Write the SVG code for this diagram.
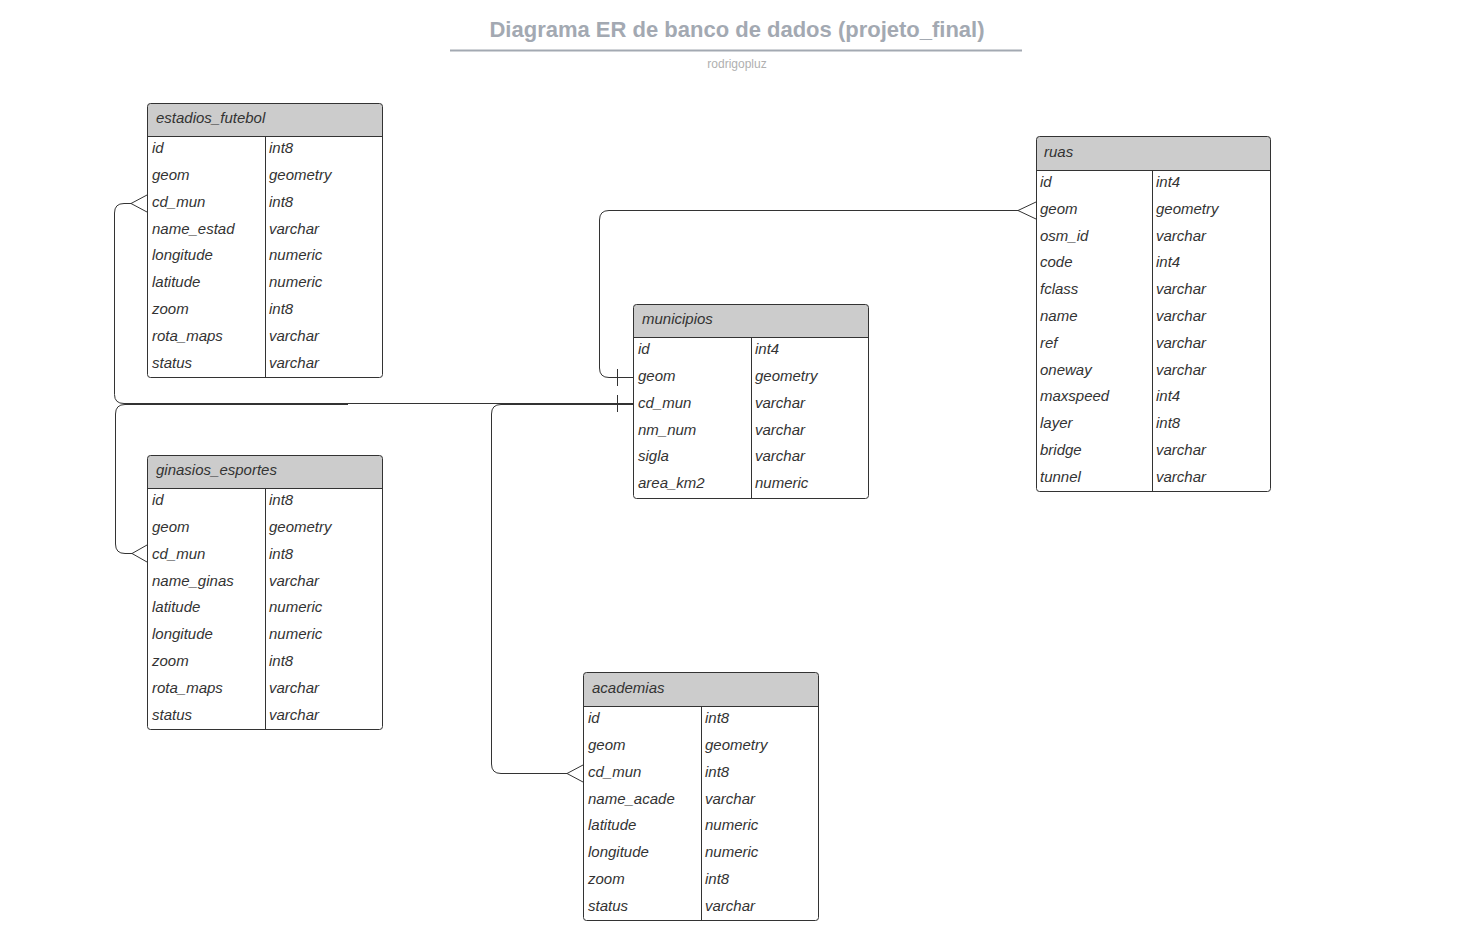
<svg xmlns="http://www.w3.org/2000/svg" width="1468" height="942" viewBox="0 0 1468 942">
<style>
.t{font-family:"Liberation Sans",Arial,sans-serif;font-size:15px;font-style:italic;fill:#333}
.hd{fill:#cccccc;stroke:none}
.box{fill:none;stroke:#333;stroke-width:1}
.ln{stroke:#333;stroke-width:1;fill:none}
.c{stroke:#333;stroke-width:1;fill:none}
</style>
<rect width="1468" height="942" fill="#ffffff"/>
<g id="title">
<text x="737" y="36.5" text-anchor="middle" font-family="Liberation Sans,Arial,sans-serif" font-size="22" font-weight="bold" fill="#a3a9b2">Diagrama ER de banco de dados (projeto_final)</text>
<line x1="450" y1="50.5" x2="1022" y2="50.5" stroke="#a3a9b2" stroke-width="2"/>
<text x="737" y="68" text-anchor="middle" font-family="Liberation Sans,Arial,sans-serif" font-size="12" fill="#b0b0b0">rodrigopluz</text>
</g>

<g id="estadios_futebol">
<path class="hd" d="M147.5 136.5 V106.5 Q147.5 103.5 150.5 103.5 H379.5 Q382.5 103.5 382.5 106.5 V136.5 Z"/>
<rect class="box" x="147.5" y="103.5" width="235" height="274" rx="3"/>
<line class="ln" x1="147.5" y1="136.5" x2="382.5" y2="136.5"/>
<line class="ln" x1="265.5" y1="136.5" x2="265.5" y2="377.5"/>
<text class="t" x="156" y="123">estadios_futebol</text>
<text class="t" x="152" y="153">id</text><text class="t" x="269" y="153">int8</text>
<text class="t" x="152" y="180">geom</text><text class="t" x="269" y="180">geometry</text>
<text class="t" x="152" y="207">cd_mun</text><text class="t" x="269" y="207">int8</text>
<text class="t" x="152" y="234">name_estad</text><text class="t" x="269" y="234">varchar</text>
<text class="t" x="152" y="260">longitude</text><text class="t" x="269" y="260">numeric</text>
<text class="t" x="152" y="287">latitude</text><text class="t" x="269" y="287">numeric</text>
<text class="t" x="152" y="314">zoom</text><text class="t" x="269" y="314">int8</text>
<text class="t" x="152" y="341">rota_maps</text><text class="t" x="269" y="341">varchar</text>
<text class="t" x="152" y="368">status</text><text class="t" x="269" y="368">varchar</text>
</g>

<g id="ginasios_esportes">
<path class="hd" d="M147.5 488.5 V458.5 Q147.5 455.5 150.5 455.5 H379.5 Q382.5 455.5 382.5 458.5 V488.5 Z"/>
<rect class="box" x="147.5" y="455.5" width="235" height="274" rx="3"/>
<line class="ln" x1="147.5" y1="488.5" x2="382.5" y2="488.5"/>
<line class="ln" x1="265.5" y1="488.5" x2="265.5" y2="729.5"/>
<text class="t" x="156" y="475">ginasios_esportes</text>
<text class="t" x="152" y="505">id</text><text class="t" x="269" y="505">int8</text>
<text class="t" x="152" y="532">geom</text><text class="t" x="269" y="532">geometry</text>
<text class="t" x="152" y="559">cd_mun</text><text class="t" x="269" y="559">int8</text>
<text class="t" x="152" y="586">name_ginas</text><text class="t" x="269" y="586">varchar</text>
<text class="t" x="152" y="612">latitude</text><text class="t" x="269" y="612">numeric</text>
<text class="t" x="152" y="639">longitude</text><text class="t" x="269" y="639">numeric</text>
<text class="t" x="152" y="666">zoom</text><text class="t" x="269" y="666">int8</text>
<text class="t" x="152" y="693">rota_maps</text><text class="t" x="269" y="693">varchar</text>
<text class="t" x="152" y="720">status</text><text class="t" x="269" y="720">varchar</text>
</g>

<g id="municipios">
<path class="hd" d="M633.5 337.5 V307.5 Q633.5 304.5 636.5 304.5 H865.5 Q868.5 304.5 868.5 307.5 V337.5 Z"/>
<rect class="box" x="633.5" y="304.5" width="235" height="194" rx="3"/>
<line class="ln" x1="633.5" y1="337.5" x2="868.5" y2="337.5"/>
<line class="ln" x1="751.5" y1="337.5" x2="751.5" y2="498.5"/>
<text class="t" x="642" y="324">municipios</text>
<text class="t" x="638" y="354">id</text><text class="t" x="755" y="354">int4</text>
<text class="t" x="638" y="381">geom</text><text class="t" x="755" y="381">geometry</text>
<text class="t" x="638" y="408">cd_mun</text><text class="t" x="755" y="408">varchar</text>
<text class="t" x="638" y="435">nm_num</text><text class="t" x="755" y="435">varchar</text>
<text class="t" x="638" y="461">sigla</text><text class="t" x="755" y="461">varchar</text>
<text class="t" x="638" y="488">area_km2</text><text class="t" x="755" y="488">numeric</text>
</g>

<g id="ruas">
<path class="hd" d="M1036.5 170.5 V139.5 Q1036.5 136.5 1039.5 136.5 H1267.5 Q1270.5 136.5 1270.5 139.5 V170.5 Z"/>
<rect class="box" x="1036.5" y="136.5" width="234" height="355" rx="3"/>
<line class="ln" x1="1036.5" y1="170.5" x2="1270.5" y2="170.5"/>
<line class="ln" x1="1152.5" y1="170.5" x2="1152.5" y2="491.5"/>
<text class="t" x="1044" y="157">ruas</text>
<text class="t" x="1040" y="187">id</text><text class="t" x="1156" y="187">int4</text>
<text class="t" x="1040" y="214">geom</text><text class="t" x="1156" y="214">geometry</text>
<text class="t" x="1040" y="241">osm_id</text><text class="t" x="1156" y="241">varchar</text>
<text class="t" x="1040" y="267">code</text><text class="t" x="1156" y="267">int4</text>
<text class="t" x="1040" y="294">fclass</text><text class="t" x="1156" y="294">varchar</text>
<text class="t" x="1040" y="321">name</text><text class="t" x="1156" y="321">varchar</text>
<text class="t" x="1040" y="348">ref</text><text class="t" x="1156" y="348">varchar</text>
<text class="t" x="1040" y="375">oneway</text><text class="t" x="1156" y="375">varchar</text>
<text class="t" x="1040" y="401">maxspeed</text><text class="t" x="1156" y="401">int4</text>
<text class="t" x="1040" y="428">layer</text><text class="t" x="1156" y="428">int8</text>
<text class="t" x="1040" y="455">bridge</text><text class="t" x="1156" y="455">varchar</text>
<text class="t" x="1040" y="482">tunnel</text><text class="t" x="1156" y="482">varchar</text>
</g>

<g id="academias">
<path class="hd" d="M583.5 706.5 V675.5 Q583.5 672.5 586.5 672.5 H815.5 Q818.5 672.5 818.5 675.5 V706.5 Z"/>
<rect class="box" x="583.5" y="672.5" width="235" height="248" rx="3"/>
<line class="ln" x1="583.5" y1="706.5" x2="818.5" y2="706.5"/>
<line class="ln" x1="701.5" y1="706.5" x2="701.5" y2="920.5"/>
<text class="t" x="592" y="693">academias</text>
<text class="t" x="588" y="723">id</text><text class="t" x="705" y="723">int8</text>
<text class="t" x="588" y="750">geom</text><text class="t" x="705" y="750">geometry</text>
<text class="t" x="588" y="777">cd_mun</text><text class="t" x="705" y="777">int8</text>
<text class="t" x="588" y="804">name_acade</text><text class="t" x="705" y="804">varchar</text>
<text class="t" x="588" y="830">latitude</text><text class="t" x="705" y="830">numeric</text>
<text class="t" x="588" y="857">longitude</text><text class="t" x="705" y="857">numeric</text>
<text class="t" x="588" y="884">zoom</text><text class="t" x="705" y="884">int8</text>
<text class="t" x="588" y="911">status</text><text class="t" x="705" y="911">varchar</text>
</g>

<g id="connectors">
<!-- estadios_futebol.cd_mun -> municipios.cd_mun -->
<path class="c" d="M131 203.5 H124 Q114.5 203.5 114.5 213 V394.5 Q114.5 403.5 124 403.5 H633"/>
<path class="c" d="M147 195 L131 203.5 L147 212"/>
<!-- ginasios_esportes.cd_mun -> municipios.cd_mun -->
<path class="c" d="M132 553.5 H125 Q115.5 553.5 115.5 544 V414 Q115.5 404.5 125 404.5 H348"/>
<path class="c" d="M147 545 L132 553.5 L147 562"/>
<!-- academias.cd_mun -> municipios.cd_mun -->
<path class="c" d="M567 773.5 H501 Q491.5 773.5 491.5 764 V414 Q491.5 404.5 501 404.5 H633"/>
<path class="c" d="M583 765 L567 773.5 L583 782"/>
<!-- ruas.geom -> municipios.geom -->
<path class="c" d="M1018 210.5 H609 Q599.5 210.5 599.5 220 V368 Q599.5 377.5 609 377.5 H633"/>
<path class="c" d="M1036 202 L1018 210.5 L1036 219"/>
<!-- one markers -->
<line class="c" x1="617.5" y1="369" x2="617.5" y2="386"/>
<line class="c" x1="617.5" y1="395" x2="617.5" y2="412"/>
</g>
</svg>
